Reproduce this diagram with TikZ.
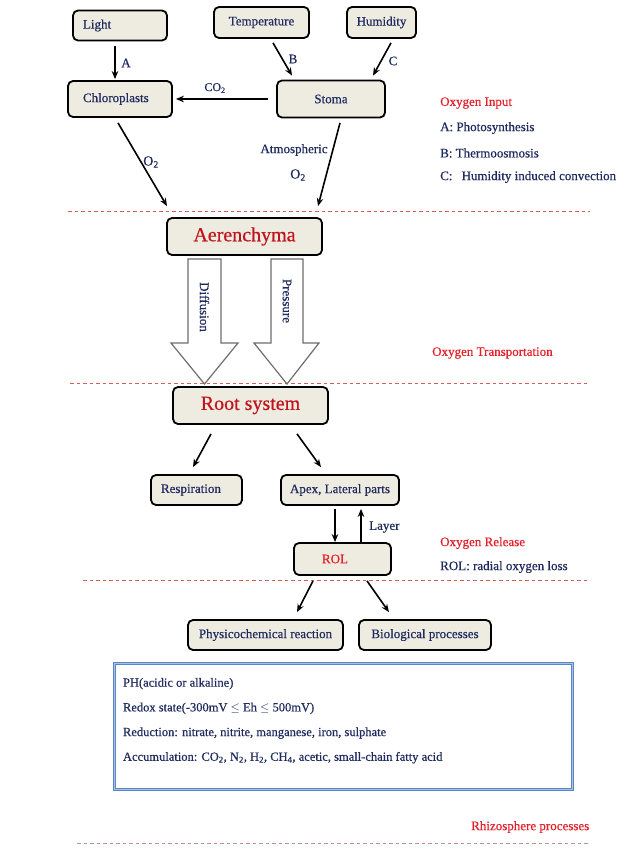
\documentclass[tikz,border=0pt]{standalone}
\usepackage{fontspec}
\setmainfont{Liberation Serif}[FakeBold=0.5]
\usetikzlibrary{arrows.meta,calc}
\definecolor{navy}{HTML}{1F2B5E}
\definecolor{ired}{HTML}{E5202A}
\definecolor{dred}{HTML}{C0141E}
\definecolor{beige}{HTML}{EEECE1}
\definecolor{dashc}{HTML}{D85A5A}
\definecolor{dashg}{HTML}{C09090}
\definecolor{bluebox}{HTML}{5B86C6}
\definecolor{lightblue}{HTML}{A9C1E6}
\definecolor{arrgray}{HTML}{6E6E6E}
\begin{document}
\begin{tikzpicture}[x=1pt,y=-1pt,
  box/.style={draw=black, fill=beige, rounded corners=5pt, line width=1.8pt,
    text=navy, font=\fontsize{13}{15}\selectfont, inner sep=0pt},
  bigbox/.style={box, text=dred, font=\fontsize{20}{23}\selectfont},
  arr/.style={line width=1.6pt, -{Stealth[length=8pt,width=6.5pt]}},
  lbl/.style={text=navy, font=\fontsize{13}{15}\selectfont, inner sep=0pt},
  rlbl/.style={text=ired, font=\fontsize{13}{15}\selectfont, inner sep=0pt, anchor=west},
  sep/.style={dashc, line width=0.9pt, dash pattern=on 3.5pt off 3pt},
  hollow/.style={draw=arrgray, fill=white, line width=1.2pt, line join=miter}]
\useasboundingbox (0,0) rectangle (640,850);
\fill[white] (0,0) rectangle (640,850);

% separators
\draw[sep] (68,211.5) -- (590,211.5);
\draw[sep] (70,383.5) -- (590,383.5);
\draw[sep] (83,580.5) -- (590,580.5);
\draw[sep, dashg] (77,843.5) -- (590,843.5);

% top boxes
\node[box, minimum width=94pt, minimum height=30pt, text width=74pt, align=left] (light) at (120,25.5) {Light};
\node[box, minimum width=95pt, minimum height=31pt] (temp) at (261.5,22.5) {Temperature};
\node[box, minimum width=69pt, minimum height=31pt] (humid) at (381.5,22.5) {Humidity};
\node[box, minimum width=104pt, minimum height=36pt, text width=74pt, align=left] (chloro) at (120,99) {Chloroplasts};
\node[box, minimum width=108pt, minimum height=37pt] (stoma) at (331,99) {Stoma};

\draw[arr] ([xshift=-5pt,yshift=-5pt]light.south) -- ([xshift=-5pt,yshift=1pt]chloro.north);
\draw[arr] ([xshift=11.5pt,yshift=-4pt]temp.south) -- ([xshift=-39pt,yshift=4pt]stoma.north);
\draw[arr] ([xshift=9.5pt,yshift=-4pt]humid.south) -- ([xshift=42pt,yshift=4pt]stoma.north);
\draw[arr] ([xshift=-8pt]stoma.west) -- ([xshift=3pt]chloro.east);

\node[lbl] (la) at (126,63) {A};
\node[lbl] (lb) at (293,59) {B};
\node[lbl] (lc) at (393,61) {C};
\node[lbl, font=\fontsize{12}{14}\selectfont] (lco2) at (215,88) {CO\textsubscript{2}};

% aerenchyma
\node[bigbox, minimum width=155pt, minimum height=37pt] (aer) at (244.5,236.5) {Aerenchyma};

\draw[arr] ([xshift=-2pt,yshift=-5pt]chloro.south) -- ([xshift=-77.5pt,yshift=11pt]aer.north);
\draw[arr] ([xshift=9pt,yshift=-4.5pt]stoma.south) -- ([xshift=73.5pt,yshift=11pt]aer.north);

\node[lbl, font=\fontsize{14}{16}\selectfont] (lo2a) at (151,162) {O\textsubscript{2}};
\node[lbl] (latm) at (294,150) {Atmospheric};
\node[lbl, font=\fontsize{14}{16}\selectfont] (lo2b) at (298,175) {O\textsubscript{2}};

% right legend, oxygen input
\node[rlbl] (oin) at (440,103) {Oxygen Input};
\node[rlbl, text=navy] (lega) at (440,128) {A: Photosynthesis};
\node[rlbl, text=navy] (legb) at (440,153) {B: Thermoosmosis};
\node[rlbl, text=navy] (legc) at (440,177) {C:\hspace{0.7em}Humidity induced convection};

% hollow arrows
\draw[hollow] (188,259) -- (221,259) -- (221,343) -- (238,343) -- (204.5,384) -- (171,343) -- (188,343) -- cycle;
\draw[hollow] (271,259) -- (303,259) -- (303,343) -- (319,343) -- (287,384) -- (254,343) -- (271,343) -- cycle;
\node[lbl, rotate=-90] (ldiff) at (204.5,307) {Diffusion};
\node[lbl, rotate=-90] (lpress) at (287,301) {Pressure};

\node[rlbl] (otr) at (432,353) {Oxygen Transportation};

% root system
\node[bigbox, minimum width=155pt, minimum height=37pt] (root) at (250.5,405.5) {Root system};
\node[box, minimum width=91pt, minimum height=30pt, text width=71pt, align=left] (resp) at (196.5,490) {Respiration};
\node[box, minimum width=118pt, minimum height=30pt] (apex) at (340,490) {Apex, Lateral parts};
\node[box, minimum width=97pt, minimum height=32pt, text width=41pt, align=left, text=ired] (rol) at (342.5,559) {ROL};

\draw[arr] ([xshift=-39.5pt,yshift=-9pt]root.south) -- ([xshift=-3.5pt,yshift=7pt]resp.north);
\draw[arr] ([xshift=46.5pt,yshift=-9pt]root.south) -- ([xshift=-19pt,yshift=7pt]apex.north);
\draw[arr] ([xshift=-5pt,yshift=-3pt]apex.south) -- ([xshift=-5pt]apex.south |- rol.north);
\draw[arr] ([xshift=21pt]apex.south |- rol.north) -- ([xshift=21pt,yshift=-3pt]apex.south);
\node[lbl, anchor=west] (llayer) at (369,527) {Layer};

\node[rlbl] (orel) at (440,543) {Oxygen Release};
\node[rlbl, text=navy] (lrol) at (440,567) {ROL: radial oxygen loss};

% bottom boxes
\node[box, minimum width=155pt, minimum height=30pt] (phys) at (265.5,635) {Physicochemical reaction};
\node[box, minimum width=132pt, minimum height=30pt] (bio) at (425,635) {Biological processes};
\draw[arr] ([xshift=-29.5pt,yshift=-5pt]rol.south) -- ([xshift=31.5pt,yshift=7pt]phys.north);
\draw[arr] ([xshift=24.5pt,yshift=-5pt]rol.south) -- ([xshift=-36pt,yshift=7pt]bio.north);

% environment box
\node[draw=bluebox, line width=1.4pt, double=lightblue, double distance=0.9pt, minimum width=458pt, minimum height=126pt, inner sep=0pt] (env) at (343.5,726.5) {};
\node[lbl, anchor=north west, align=left, font=\fontsize{12.5}{24.7}\selectfont] (envtext) at ([xshift=9pt,yshift=-15pt]env.north west)
 {PH(acidic or alkaline)\\
  Redox state(-300mV $\le$ Eh $\le$ 500mV)\\
  Reduction: nitrate, nitrite, manganese, iron, sulphate\\
  Accumulation: CO\textsubscript{2}, N\textsubscript{2}, H\textsubscript{2}, CH\textsubscript{4}, acetic, small-chain fatty acid};

\node[rlbl] (rhiz) at (471,827) {Rhizosphere processes};
\end{tikzpicture}
\end{document}
